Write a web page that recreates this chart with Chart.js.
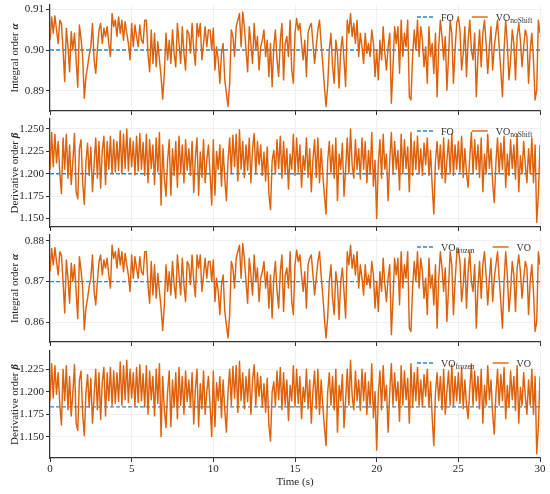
<!DOCTYPE html>
<html>
<head>
<meta charset="utf-8">
<script src="https://cdn.jsdelivr.net/npm/chart.js@4.4.0/dist/chart.umd.min.js"></script>
<style>
  body { margin: 0; background: #fff; width: 550px; height: 494px; position: relative; overflow: hidden; }
  canvas { position: absolute; left: 0; }
</style>
</head>
<body>
<canvas id="p1" width="550" height="116" style="top:0px"></canvas>
<canvas id="p2" width="550" height="116" style="top:116px"></canvas>
<canvas id="p3" width="550" height="115" style="top:232px"></canvas>
<canvas id="p4" width="550" height="147" style="top:347px"></canvas>
<script>
// sampling step of the time series (s) and time axis ticks
const timeStep = 0.1;
const xTicks = [0, 5, 10, 15, 20, 25, 30];

// reference (dashed) levels
const foAlpha = 0.900;
const foBeta = 1.200;
const frozenAlpha = 0.870;
const frozenBeta = 1.183;

// y tick labels of each panel
const ticksAlphaTop = [0.89, 0.90, 0.91];
const ticksBetaTop = [1.150, 1.175, 1.200, 1.225, 1.250];
const ticksAlphaBottom = [0.86, 0.87, 0.88];
const ticksBetaBottom = [1.150, 1.175, 1.200, 1.225];

// VO_noShift, integral order
const alphaNoShift = [
  0.9024, 0.9081, 0.9041, 0.9083, 0.9049, 0.9016, 0.9073, 0.9065, 0.9000, 0.8923,
  0.9053, 0.9008, 0.8947, 0.9045, 0.9000, 0.9041, 0.8976, 0.8909, 0.9061, 0.9028,
  0.8984, 0.8882, 0.8935, 0.8959, 0.8988, 0.9008, 0.9065, 0.8976, 0.8943, 0.9000,
  0.9049, 0.9065, 0.9016, 0.9053, 0.9033, 0.9057, 0.9016, 0.8984, 0.9089, 0.9057,
  0.9073, 0.9033, 0.9081, 0.9041, 0.9073, 0.9024, 0.9069, 0.9041, 0.9016, 0.8976,
  0.9065, 0.9008, 0.9061, 0.9033, 0.9008, 0.9061, 0.9024, 0.9016, 0.9073, 0.9073,
  0.8992, 0.8947, 0.9049, 0.8967, 0.9041, 0.8959, 0.9020, 0.8976, 0.8935, 0.8880,
  0.8943, 0.9041, 0.8976, 0.9024, 0.8967, 0.9049, 0.8992, 0.8959, 0.9065, 0.9016,
  0.8967, 0.9057, 0.8992, 0.8951, 0.9049, 0.9041, 0.8992, 0.9065, 0.9000, 0.8963,
  0.9065, 0.9033, 0.9065, 0.8976, 0.9016, 0.9057, 0.9008, 0.9049, 0.9049, 0.9000,
  0.9053,
  0.8951, 0.9008, 0.8976, 0.8919, 0.8992, 0.9016, 0.8927, 0.8894, 0.8862, 0.8919,
  0.9049, 0.9033, 0.8984, 0.9057, 0.9073, 0.9089, 0.9008, 0.9093, 0.9057, 0.9000,
  0.8947, 0.9057, 0.9016, 0.8967, 0.9065, 0.9000, 0.9033, 0.8951, 0.9008, 0.9024,
  0.9049, 0.8984, 0.9024, 0.8935, 0.9016, 0.8911, 0.9008, 0.9049, 0.8976, 0.8935,
  0.9024, 0.9065, 0.8927, 0.9016, 0.9033, 0.8984, 0.9073, 0.8951, 0.8919, 0.9041,
  0.9077, 0.9049, 0.9065, 0.9016, 0.8976, 0.9024, 0.8935, 0.9041, 0.9057, 0.9065,
  0.9016, 0.8967, 0.9008, 0.9049, 0.9073, 0.9016, 0.8967, 0.8911, 0.8862, 0.8911,
  0.9000, 0.9041, 0.8959, 0.8919, 0.9024, 0.8992, 0.8907, 0.9000, 0.9033, 0.8976,
  0.8911, 0.9073, 0.9041, 0.9089, 0.9033, 0.9065, 0.9016, 0.9073, 0.8984, 0.9041,
  0.9008, 0.8967, 0.9041, 0.8992, 0.9016, 0.8984, 0.9049, 0.9016, 0.8935, 0.9000,
  0.8927, 0.9024, 0.8976, 0.9057, 0.8992, 0.8951, 0.9008, 0.9041, 0.8870, 0.8959,
  0.9057, 0.9016, 0.9057, 0.8943, 0.9073, 0.8984, 0.9041, 0.9008, 0.9073, 0.8886,
  0.8878, 0.8984, 0.9049, 0.9000, 0.9073, 0.8984, 0.9057, 0.9024, 0.8959, 0.9008,
  0.8919, 0.9057, 0.8984, 0.9016, 0.8943, 0.9041, 0.8886, 0.9008, 0.9073, 0.9033,
  0.8976, 0.9033, 0.8902, 0.8984, 0.9073, 0.9041, 0.8919, 0.9000, 0.9065, 0.9081,
  0.9049, 0.8951, 0.8992, 0.9057, 0.8935, 0.9024, 0.9073, 0.9000, 0.8976, 0.9041,
  0.8886, 0.8984, 0.9049, 0.8959, 0.9041, 0.9073, 0.9016, 0.8943, 0.9008, 0.9057,
  0.8951, 0.9008, 0.9041, 0.9073, 0.9008, 0.8951, 0.8886, 0.9000, 0.9073, 0.9016,
  0.8927, 0.8976, 0.9049, 0.9016, 0.8927, 0.9033, 0.9065, 0.9024, 0.8959, 0.9008,
  0.9049, 0.9033, 0.8919, 0.9000, 0.9041, 0.8976, 0.8878, 0.8902, 0.9073, 0.9041
];

// VO_noShift, derivative order
const betaNoShift = [
  1.205, 1.246, 1.208, 1.244, 1.212, 1.236, 1.201, 1.178, 1.240, 1.205,
  1.244, 1.195, 1.232, 1.188, 1.214, 1.245, 1.180, 1.172, 1.228, 1.238,
  1.190, 1.166, 1.214, 1.234, 1.198, 1.230, 1.180, 1.210, 1.240, 1.195,
  1.236, 1.184, 1.226, 1.242, 1.188, 1.236, 1.205, 1.242, 1.200, 1.238,
  1.202, 1.236, 1.204, 1.248, 1.200, 1.244, 1.206, 1.250, 1.203, 1.240,
  1.208, 1.236, 1.199, 1.242, 1.203, 1.245, 1.205, 1.235, 1.198, 1.244,
  1.190, 1.238, 1.206, 1.232, 1.188, 1.240, 1.202, 1.246, 1.165, 1.232,
  1.195, 1.175, 1.215, 1.238, 1.176, 1.228, 1.198, 1.236, 1.185, 1.242,
  1.200, 1.232, 1.190, 1.238, 1.204, 1.228, 1.198, 1.236, 1.179, 1.218,
  1.240, 1.176, 1.224, 1.196, 1.238, 1.190, 1.215, 1.232, 1.200, 1.165,
  1.238, 1.176, 1.225, 1.205, 1.232, 1.186, 1.228, 1.195, 1.170, 1.215,
  1.240, 1.200, 1.243, 1.208, 1.244, 1.192, 1.249, 1.205, 1.236, 1.196,
  1.232, 1.204, 1.240, 1.190, 1.228, 1.245, 1.200, 1.236, 1.210, 1.232,
  1.198, 1.224, 1.192, 1.230, 1.178, 1.160, 1.214, 1.226, 1.200, 1.238,
  1.206, 1.242, 1.195, 1.236, 1.200, 1.228, 1.183, 1.222, 1.205, 1.244,
  1.198, 1.240, 1.202, 1.232, 1.185, 1.220, 1.204, 1.240, 1.196, 1.228,
  1.180, 1.216, 1.238, 1.196, 1.240, 1.190, 1.228, 1.200, 1.176, 1.155,
  1.214, 1.236, 1.200, 1.232, 1.195, 1.240, 1.170, 1.222, 1.205, 1.234,
  1.175, 1.206, 1.240, 1.200, 1.250, 1.210, 1.195, 1.238, 1.205, 1.228,
  1.194, 1.240, 1.205, 1.236, 1.190, 1.226, 1.200, 1.246, 1.186, 1.215,
  1.150, 1.212, 1.238, 1.195, 1.244, 1.205, 1.222, 1.170, 1.215, 1.246,
  1.200, 1.236, 1.205, 1.226, 1.182, 1.244, 1.200, 1.238, 1.206, 1.230,
  1.180, 1.246, 1.198, 1.236, 1.205, 1.242, 1.200, 1.228, 1.198, 1.234,
  1.210, 1.240, 1.198, 1.226, 1.186, 1.155, 1.214, 1.236, 1.205, 1.232,
  1.195, 1.240, 1.190, 1.215, 1.238, 1.200, 1.245, 1.198, 1.232, 1.205,
  1.236, 1.202, 1.242, 1.196, 1.228, 1.200, 1.185, 1.218, 1.246, 1.200,
  1.238, 1.205, 1.232, 1.196, 1.240, 1.180, 1.222, 1.200, 1.244, 1.206,
  1.228, 1.190, 1.168, 1.212, 1.240, 1.200, 1.234, 1.205, 1.242, 1.185,
  1.222, 1.198, 1.238, 1.206, 1.232, 1.194, 1.244, 1.180, 1.220, 1.200,
  1.236, 1.210, 1.190, 1.228, 1.200, 1.240, 1.190, 1.232, 1.146, 1.176,
  1.232
];

// VO, integral order
const alphaVO = [
  0.8724, 0.8781, 0.8741, 0.8783, 0.8749, 0.8716, 0.8773, 0.8765, 0.8700, 0.8623,
  0.8753, 0.8708, 0.8647, 0.8745, 0.8700, 0.8741, 0.8676, 0.8609, 0.8761, 0.8728,
  0.8684, 0.8582, 0.8635, 0.8659, 0.8688, 0.8708, 0.8765, 0.8676, 0.8643, 0.8700,
  0.8749, 0.8765, 0.8716, 0.8753, 0.8733, 0.8757, 0.8716, 0.8684, 0.8789, 0.8757,
  0.8773, 0.8733, 0.8781, 0.8741, 0.8773, 0.8724, 0.8769, 0.8741, 0.8716, 0.8676,
  0.8765, 0.8708, 0.8761, 0.8733, 0.8708, 0.8761, 0.8724, 0.8716, 0.8773, 0.8773,
  0.8692, 0.8647, 0.8749, 0.8667, 0.8741, 0.8659, 0.8720, 0.8676, 0.8635, 0.8580,
  0.8643, 0.8741, 0.8676, 0.8724, 0.8667, 0.8749, 0.8692, 0.8659, 0.8765, 0.8716,
  0.8667, 0.8757, 0.8692, 0.8651, 0.8749, 0.8741, 0.8692, 0.8765, 0.8700, 0.8663,
  0.8765, 0.8733, 0.8765, 0.8676, 0.8716, 0.8757, 0.8708, 0.8749, 0.8749, 0.8700,
  0.8753,
  0.8651, 0.8708, 0.8676, 0.8619, 0.8692, 0.8716, 0.8627, 0.8594, 0.8562, 0.8619,
  0.8749, 0.8733, 0.8684, 0.8757, 0.8773, 0.8789, 0.8708, 0.8793, 0.8757, 0.8700,
  0.8647, 0.8757, 0.8716, 0.8667, 0.8765, 0.8700, 0.8733, 0.8651, 0.8708, 0.8724,
  0.8749, 0.8684, 0.8724, 0.8635, 0.8716, 0.8611, 0.8708, 0.8749, 0.8676, 0.8635,
  0.8724, 0.8765, 0.8627, 0.8716, 0.8733, 0.8684, 0.8773, 0.8651, 0.8619, 0.8741,
  0.8777, 0.8749, 0.8765, 0.8716, 0.8676, 0.8724, 0.8635, 0.8741, 0.8757, 0.8765,
  0.8716, 0.8667, 0.8708, 0.8749, 0.8773, 0.8716, 0.8667, 0.8611, 0.8562, 0.8611,
  0.8700, 0.8741, 0.8659, 0.8619, 0.8724, 0.8692, 0.8607, 0.8700, 0.8733, 0.8676,
  0.8611, 0.8773, 0.8741, 0.8789, 0.8733, 0.8765, 0.8716, 0.8773, 0.8684, 0.8741,
  0.8708, 0.8667, 0.8741, 0.8692, 0.8716, 0.8684, 0.8749, 0.8716, 0.8635, 0.8700,
  0.8627, 0.8724, 0.8676, 0.8757, 0.8692, 0.8651, 0.8708, 0.8741, 0.8570, 0.8659,
  0.8757, 0.8716, 0.8757, 0.8643, 0.8773, 0.8684, 0.8741, 0.8708, 0.8773, 0.8586,
  0.8578, 0.8684, 0.8749, 0.8700, 0.8773, 0.8684, 0.8757, 0.8724, 0.8659, 0.8708,
  0.8619, 0.8757, 0.8684, 0.8716, 0.8643, 0.8741, 0.8586, 0.8708, 0.8773, 0.8733,
  0.8676, 0.8733, 0.8602, 0.8684, 0.8773, 0.8741, 0.8619, 0.8700, 0.8765, 0.8781,
  0.8749, 0.8651, 0.8692, 0.8757, 0.8635, 0.8724, 0.8773, 0.8700, 0.8676, 0.8741,
  0.8586, 0.8684, 0.8749, 0.8659, 0.8741, 0.8773, 0.8716, 0.8643, 0.8708, 0.8757,
  0.8651, 0.8708, 0.8741, 0.8773, 0.8708, 0.8651, 0.8586, 0.8700, 0.8773, 0.8716,
  0.8627, 0.8676, 0.8749, 0.8716, 0.8627, 0.8733, 0.8765, 0.8724, 0.8659, 0.8708,
  0.8749, 0.8733, 0.8619, 0.8700, 0.8741, 0.8676, 0.8578, 0.8602, 0.8773, 0.8741
];

// VO, derivative order
const betaVO = [
  1.190, 1.231, 1.193, 1.229, 1.197, 1.221, 1.186, 1.163, 1.225, 1.190,
  1.229, 1.180, 1.217, 1.173, 1.199, 1.230, 1.165, 1.157, 1.213, 1.223,
  1.175, 1.151, 1.199, 1.219, 1.183, 1.215, 1.165, 1.195, 1.225, 1.180,
  1.221, 1.169, 1.211, 1.227, 1.173, 1.221, 1.190, 1.227, 1.185, 1.223,
  1.187, 1.221, 1.189, 1.233, 1.185, 1.229, 1.191, 1.235, 1.188, 1.225,
  1.193, 1.221, 1.184, 1.227, 1.188, 1.230, 1.190, 1.220, 1.183, 1.229,
  1.175, 1.223, 1.191, 1.217, 1.173, 1.225, 1.187, 1.231, 1.150, 1.217,
  1.180, 1.160, 1.200, 1.223, 1.161, 1.213, 1.183, 1.221, 1.170, 1.227,
  1.185, 1.217, 1.175, 1.223, 1.189, 1.213, 1.183, 1.221, 1.164, 1.203,
  1.225, 1.161, 1.209, 1.181, 1.223, 1.175, 1.200, 1.217, 1.185, 1.150,
  1.223, 1.161, 1.210, 1.190, 1.217, 1.171, 1.213, 1.180, 1.155, 1.200,
  1.225, 1.185, 1.228, 1.193, 1.229, 1.177, 1.234, 1.190, 1.221, 1.181,
  1.217, 1.189, 1.225, 1.175, 1.213, 1.230, 1.185, 1.221, 1.195, 1.217,
  1.183, 1.209, 1.177, 1.215, 1.163, 1.145, 1.199, 1.211, 1.185, 1.223,
  1.191, 1.227, 1.180, 1.221, 1.185, 1.213, 1.168, 1.207, 1.190, 1.229,
  1.183, 1.225, 1.187, 1.217, 1.170, 1.205, 1.189, 1.225, 1.181, 1.213,
  1.165, 1.201, 1.223, 1.181, 1.225, 1.175, 1.213, 1.185, 1.161, 1.140,
  1.199, 1.221, 1.185, 1.217, 1.180, 1.225, 1.155, 1.207, 1.190, 1.219,
  1.160, 1.191, 1.225, 1.185, 1.235, 1.195, 1.180, 1.223, 1.190, 1.213,
  1.179, 1.225, 1.190, 1.221, 1.175, 1.211, 1.185, 1.231, 1.171, 1.200,
  1.135, 1.197, 1.223, 1.180, 1.229, 1.190, 1.207, 1.155, 1.200, 1.231,
  1.185, 1.221, 1.190, 1.211, 1.167, 1.229, 1.185, 1.223, 1.191, 1.215,
  1.165, 1.231, 1.183, 1.221, 1.190, 1.227, 1.185, 1.213, 1.183, 1.219,
  1.195, 1.225, 1.183, 1.211, 1.171, 1.140, 1.199, 1.221, 1.190, 1.217,
  1.180, 1.225, 1.175, 1.200, 1.223, 1.185, 1.230, 1.183, 1.217, 1.190,
  1.221, 1.187, 1.227, 1.181, 1.213, 1.185, 1.170, 1.203, 1.231, 1.185,
  1.223, 1.190, 1.217, 1.181, 1.225, 1.165, 1.207, 1.185, 1.229, 1.191,
  1.213, 1.175, 1.153, 1.197, 1.225, 1.185, 1.219, 1.190, 1.227, 1.170,
  1.207, 1.183, 1.223, 1.191, 1.217, 1.179, 1.229, 1.165, 1.205, 1.185,
  1.221, 1.195, 1.175, 1.213, 1.185, 1.225, 1.175, 1.217, 1.131, 1.161,
  1.217
];

const orange = '#de620b';
const blue = '#2e86c1';
const ink = '#262626';
const serif = "'Liberation Serif', 'Times New Roman', serif";

// axis title with an italic greek symbol, and a legend that allows subscripts
const decor = {
  id: 'decor',
  afterDraw(chart, args, opts) {
    const { ctx, chartArea } = chart;
    ctx.save();
    ctx.fillStyle = ink;
    ctx.textBaseline = 'middle';
    ctx.translate(15, (chartArea.top + chartArea.bottom) / 2);
    ctx.rotate(-Math.PI / 2);
    ctx.font = `11px ${serif}`;
    const w1 = ctx.measureText(opts.label).width;
    ctx.font = `italic bold 11px ${serif}`;
    const w2 = ctx.measureText(opts.symbol).width;
    const x0 = -(w1 + w2) / 2;
    ctx.font = `11px ${serif}`;
    ctx.fillText(opts.label, x0, 0);
    ctx.font = `italic bold 11px ${serif}`;
    ctx.fillText(opts.symbol, x0 + w1, 0);
    ctx.restore();

    // legend
    ctx.save();
    const y = chartArea.top + 12;
    let x = 417;
    opts.items.forEach((it, i) => {
      if (i > 0) x += 18;
      ctx.beginPath();
      ctx.strokeStyle = it.color;
      ctx.lineWidth = 1.4;
      ctx.setLineDash(it.dash ? [4, 2] : []);
      ctx.moveTo(x, y);
      ctx.lineTo(x + 16, y);
      ctx.stroke();
      x += 24;
      ctx.fillStyle = '#333';
      ctx.textBaseline = 'alphabetic';
      ctx.font = `10px ${serif}`;
      ctx.fillText(it.text, x, y + 3.5);
      x += ctx.measureText(it.text).width;
      if (it.sub) {
        ctx.font = `7.5px ${serif}`;
        ctx.fillText(it.sub, x, y + 6);
        x += ctx.measureText(it.sub).width;
      }
    });
    ctx.restore();
  }
};

function makePanel(id, p) {
  new Chart(document.getElementById(id), {
    type: 'line',
    data: {
      datasets: [
        {
          data: p.values.map((v, i) => ({ x: i * timeStep, y: v })),
          borderColor: orange,
          borderWidth: 1.45,
          borderJoinStyle: 'round',
          pointRadius: 0,
          order: 0,
        },
        {
          data: [{ x: 0, y: p.ref }, { x: 30, y: p.ref }],
          borderColor: blue,
          borderWidth: 1.3,
          borderDash: [4, 2],
          pointRadius: 0,
          order: 1,
        },
      ],
    },
    options: {
      responsive: false,
      animation: false,
      events: [],
      layout: { padding: { top: p.padTop, right: 10, left: 0, bottom: 0 } },
      plugins: {
        legend: { display: false },
        tooltip: { enabled: false },
        decor: { label: p.label, symbol: p.symbol, items: p.items },
      },
      scales: {
        x: {
          type: 'linear',
          min: 0,
          max: 30,
          afterBuildTicks: (s) => { s.ticks = xTicks.map((v) => ({ value: v })); },
          afterFit: (s) => { s.height = p.axisH; s.paddingLeft = 0; s.paddingRight = 0; },
          grid: { color: '#ececec', lineWidth: 0.8, tickColor: '#333', tickLength: 4, tickWidth: 1 },
          border: { color: '#333', width: 1.2 },
          ticks: { display: p.showX, padding: 1, color: ink, font: { family: serif, size: 11 }, maxRotation: 0 },
          title: { display: p.showX, text: 'Time (s)', color: ink, font: { family: serif, size: 11 }, padding: { top: 0, bottom: 5 } },
        },
        y: {
          min: p.min,
          max: p.max,
          afterBuildTicks: (s) => { s.ticks = p.ticks.map((v) => ({ value: v })); },
          afterFit: (s) => { s.width = 50; s.paddingTop = 0; s.paddingBottom = 0; },
          grid: { color: '#ececec', lineWidth: 0.8, tickColor: '#333', tickLength: 4, tickWidth: 1 },
          border: { color: '#333', width: 1.2 },
          ticks: { padding: 2, color: ink, font: { family: serif, size: 11 }, callback: (v) => v.toFixed(p.dec) },
        },
      },
    },
    plugins: [decor],
  });
}

makePanel('p1', {
  values: alphaNoShift, ref: foAlpha, min: 0.8851, max: 0.9110, ticks: ticksAlphaTop, dec: 2,
  padTop: 5, axisH: 5, showX: false, label: 'Integral order ', symbol: 'α',
  items: [{ color: blue, dash: true, text: 'FO' }, { color: orange, text: 'VO', sub: 'noShift' }],
});
makePanel('p2', {
  values: betaNoShift, ref: foBeta, min: 1.1406, max: 1.2611, ticks: ticksBetaTop, dec: 3,
  padTop: 3, axisH: 5, showX: false, label: 'Derivative order ', symbol: 'β',
  items: [{ color: blue, dash: true, text: 'FO' }, { color: orange, text: 'VO', sub: 'noShift' }],
});
makePanel('p3', {
  values: alphaVO, ref: frozenAlpha, min: 0.8552, max: 0.8814, ticks: ticksAlphaBottom, dec: 2,
  padTop: 3, axisH: 5, showX: false, label: 'Integral order ', symbol: 'α',
  items: [{ color: blue, dash: true, text: 'VO', sub: 'frozen' }, { color: orange, text: 'VO' }],
});
makePanel('p4', {
  values: betaVO, ref: frozenBeta, min: 1.1262, max: 1.2453, ticks: ticksBetaBottom, dec: 3,
  padTop: 4, axisH: 36, showX: true, label: 'Derivative order ', symbol: 'β',
  items: [{ color: blue, dash: true, text: 'VO', sub: 'frozen' }, { color: orange, text: 'VO' }],
});
</script>
</body>
</html>
